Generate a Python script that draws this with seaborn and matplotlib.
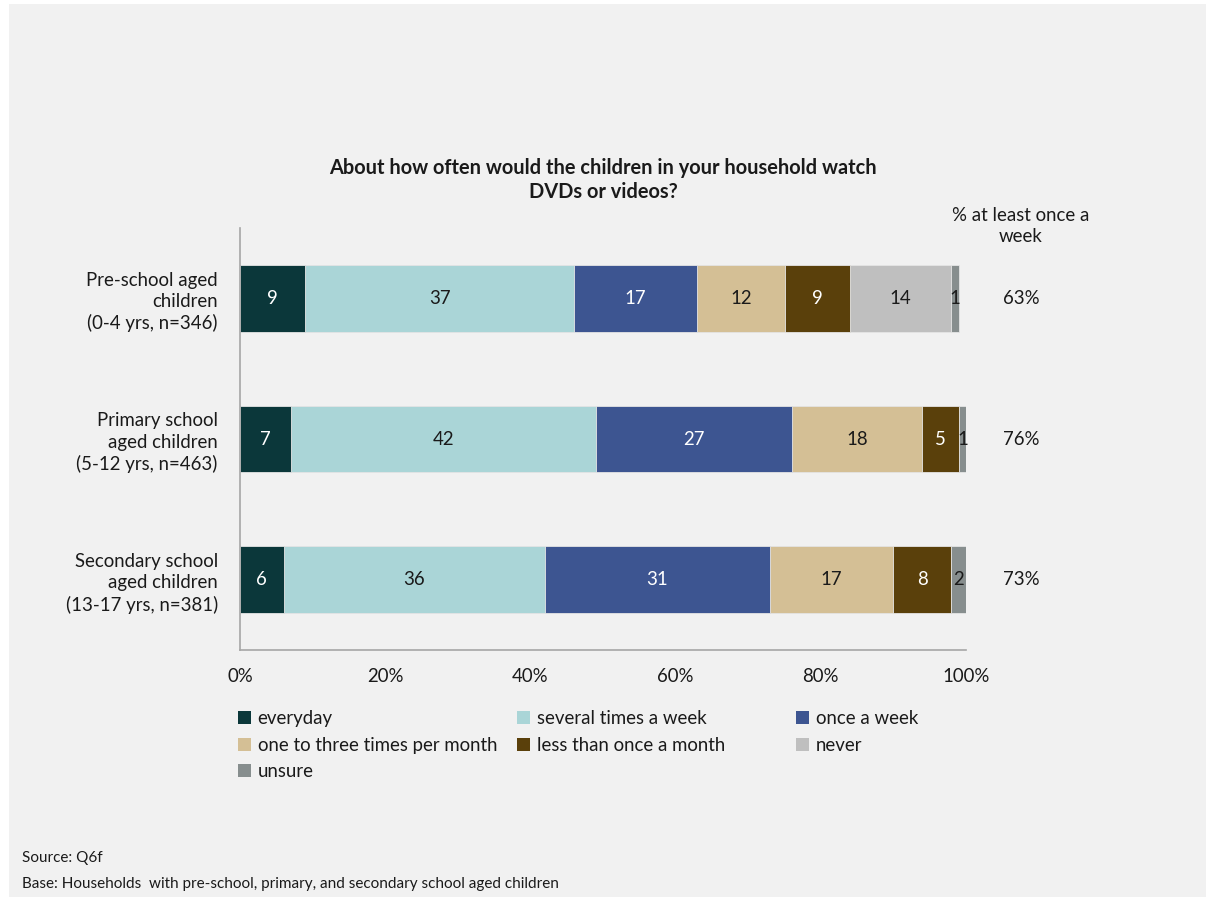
import numpy as np
import matplotlib
matplotlib.use("Agg")
import matplotlib.pyplot as plt
from matplotlib.patches import Patch, Rectangle
import seaborn as sns

# --- data -------------------------------------------------------------
groups = [
    "Pre-school aged\nchildren\n(0-4 yrs, n=346)",
    "Primary school\naged children\n(5-12 yrs, n=463)",
    "Secondary school\naged children\n(13-17 yrs, n=381)",
]
series = [
    "everyday",
    "several times a week",
    "once a week",
    "one to three times per month",
    "less than once a month",
    "never",
    "unsure",
]
everyday = [9, 7, 6]
several_week = [37, 42, 36]
once_week = [17, 27, 31]
one_to_three_month = [12, 18, 17]
less_than_month = [9, 5, 8]
never = [14, 0, 0]
unsure = [1, 1, 2]
at_least_weekly = [63, 76, 73]
xticks = [0, 20, 40, 60, 80, 100]

colors = ["#0b373a", "#aad5d7", "#3d5591", "#d4bf95", "#5a400b", "#bfbfbf", "#878e8e"]
label_colors = ["white", "#1a1a1a", "white", "#1a1a1a", "white", "#1a1a1a", "#1a1a1a"]

values = np.array([everyday, several_week, once_week, one_to_three_month,
                   less_than_month, never, unsure], dtype=float)
cum = np.cumsum(values, axis=0)

# --- figure -----------------------------------------------------------
sns.set_theme(style="white")
plt.rcParams["font.family"] = ["Lato", "DejaVu Sans"]
BG = "#f1f1f1"
TXT = "#1a1a1a"
FS = 13.4

W, H = 1206, 897
fig = plt.figure(figsize=(W / 100, H / 100), dpi=100, facecolor="white")
fig.patches.append(Rectangle((9 / W, 0), 1, 1 - 4 / H, transform=fig.transFigure,
                             facecolor=BG, edgecolor="none", zorder=-10))

ax = fig.add_axes([240 / W, 1 - 650 / H, 726 / W, (650 - 228) / H])
ax.set_facecolor(BG)

# stacked bars: draw cumulative totals from the outermost segment inward
for i in reversed(range(len(series))):
    sns.barplot(x=cum[i], y=groups, orient="h", color=colors[i], width=0.475,
                edgecolor="#e6e6e6", linewidth=0.6, saturation=1, ax=ax)

# segment value labels
for i in range(len(series)):
    for j in range(len(groups)):
        v = values[i, j]
        if v <= 0:
            continue
        ax.text(cum[i, j] - v / 2, j, f"{int(v)}", ha="center", va="center",
                color=label_colors[i], fontsize=FS)

ax.set_xlim(0, 100)
ax.set_ylim(2.5, -0.5)
ax.set_xticks(xticks)
ax.set_xticklabels([f"{t}%" for t in xticks], fontsize=FS, color=TXT)
ax.set_yticks(range(len(groups)))
ax.set_yticklabels(groups, fontsize=FS, color=TXT, linespacing=1.3,
                   ha="right", ma="right")
ax.set_xlabel("")
ax.set_ylabel("")
for side in ["top", "right"]:
    ax.spines[side].set_visible(False)
for side in ["left", "bottom"]:
    ax.spines[side].set_color("#a6a6a6")
    ax.spines[side].set_linewidth(1.2)
ax.tick_params(axis="x", direction="out", length=5, width=1.2, color="#a6a6a6", pad=8)
ax.tick_params(axis="y", length=0, pad=16)

# right-hand summary column
ax.text(1.0758, 1.005, "% at least once a\nweek", transform=ax.transAxes,
        ha="center", va="center", fontsize=FS, color=TXT, linespacing=1.25)
for j, p in enumerate(at_least_weekly):
    ax.text(1.0758, j, f"{p}%", transform=ax.get_yaxis_transform(),
            ha="center", va="center", fontsize=FS, color=TXT)

# title
fig.text(0.5, 1 - 180 / H,
         "About how often would the children in your household watch\nDVDs or videos?",
         ha="center", va="center", fontsize=14.4, fontweight="bold", color=TXT,
         linespacing=1.3)

# legend laid out as three fixed-width columns
handles = [Patch(facecolor=c, edgecolor="none") for c in colors]
columns = [[0, 3, 6], [1, 4], [2, 5]]
col_x = [238, 517, 796]
for cx, idx in zip(col_x, columns):
    leg = fig.legend([handles[k] for k in idx], [series[k] for k in idx],
                     loc="upper left", bbox_to_anchor=(cx / W, 1 - 710 / H),
                     frameon=False, fontsize=FS, handlelength=0.7,
                     handleheight=0.7, handletextpad=0.35, labelspacing=0.52,
                     borderpad=0, borderaxespad=0)
    for t in leg.get_texts():
        t.set_color(TXT)

# footnotes
fig.text(22 / W, 1 - 858 / H, "Source: Q6f", ha="left", va="center",
         fontsize=11, color=TXT)
fig.text(22 / W, 1 - 884 / H,
         "Base: Households  with pre-school, primary, and secondary school aged children",
         ha="left", va="center", fontsize=11, color=TXT)

fig.savefig("out.png", dpi=100, facecolor=fig.get_facecolor())
